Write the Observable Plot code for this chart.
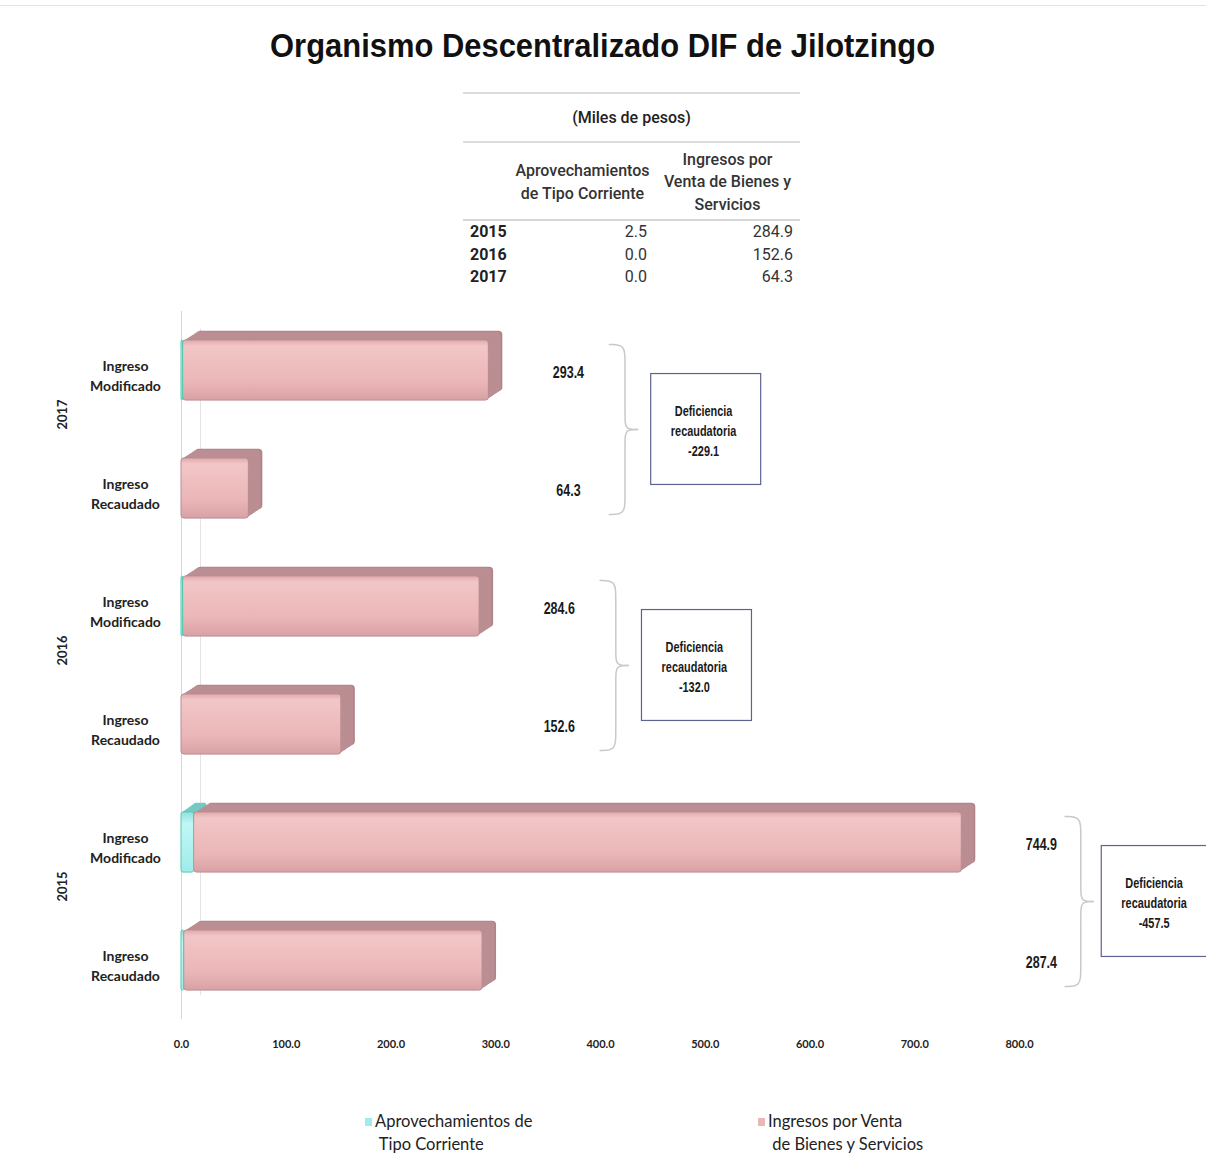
<!DOCTYPE html>
<html><head><meta charset="utf-8">
<script src="https://cdn.jsdelivr.net/npm/d3@7"></script>
<script src="https://cdn.jsdelivr.net/npm/@observablehq/plot@0.6"></script>
<style>
body{margin:0;background:#fff;}
#wrap{position:relative;width:1206px;height:1156px;overflow:hidden;color:#111;font-family:Roboto,"Liberation Sans",sans-serif;}
#topline{position:absolute;left:0;top:5px;width:1206px;height:1px;background:#e4e4e4;}
#title{position:absolute;left:0;top:25px;width:1206px;text-align:center;line-height:40px;}
#title span{display:inline-block;font-family:"Liberation Sans",Arial,sans-serif;font-size:34px;font-weight:bold;color:#111;transform-origin:50% 50%;white-space:nowrap;}
#tbl{position:absolute;left:463px;top:92px;border-collapse:collapse;font-size:16px;color:#222;font-family:Roboto,sans-serif;}
#tbl td{padding:0;}
#tbl tr.unit td{height:47px;text-align:center;font-weight:500;border-top:2px solid #dcdcdc;border-bottom:2px solid #dcdcdc;}
#tbl tr.head td{height:73px;text-align:center;white-space:pre;line-height:22.5px;font-weight:500;border-bottom:2px solid #d6d6d6;color:#333;padding-top:3px;}
#tbl tr.row td{height:22.5px;line-height:22.5px;text-align:right;color:#333;}
#tbl tr.row td.yr{text-align:left;font-weight:bold;padding-left:7px;color:#222;}
#chart{position:absolute;left:0;top:300px;}
.leg{position:absolute;top:1110px;font-family:Lato,"Open Sans",sans-serif;font-size:16.5px;line-height:23px;color:#222;white-space:pre;text-align:left;}
.sw{position:absolute;width:7px;height:8px;}
</style>
</head><body>
<div id="wrap">
  <div id="topline"></div>
  <div id="title"><span></span></div>
  <table id="tbl"></table>
  <div id="chart"></div>
</div>
<script>
// ---- data ----
const titleText = "Organismo Descentralizado DIF de Jilotzingo";
const unitText = "(Miles de pesos)";
const years = ["2017", "2016", "2015"];               // top to bottom in chart
const tipos = ["Ingreso\nModificado", "Ingreso\nRecaudado"];
const tableHeaders = ["Aprovechamientos\nde Tipo Corriente", "Ingresos por\nVenta de Bienes y\nServicios"];
const legendLabels = ["Aprovechamientos de\n Tipo Corriente", "Ingresos por Venta\n de Bienes y Servicios"];
const aprovModificado = [1.5, 1.5, 12.0];
const ventasModificado = [291.9, 283.1, 732.9];
const aprovRecaudado = [0.0, 0.0, 2.5];
const ventasRecaudado = [64.3, 152.6, 284.9];
const xTicks = [0, 100, 200, 300, 400, 500, 600, 700, 800];
const deficitLabel = ["Deficiencia", "recaudatoria"];

const colCyan = "#9eeceb", colPink = "#ebb6b7";

// ---- title & table ----
const tspan = document.querySelector("#title span");
tspan.textContent = titleText;
const tw = tspan.getBoundingClientRect().width;
tspan.style.transform = `scaleX(${665 / tw})`;

const tbl = d3.select("#tbl");
tbl.append("tr").attr("class", "unit").append("td").attr("colspan", 3).text(unitText);
const hr = tbl.append("tr").attr("class", "head");
hr.append("td").style("width", "47px");
hr.append("td").style("width", "145px").text(tableHeaders[0]);
hr.append("td").style("width", "145px").text(tableHeaders[1]);
years.map((y, i) => i).reverse().forEach(i => {
  const r = tbl.append("tr").attr("class", "row");
  r.append("td").attr("class", "yr").text(years[i]);
  r.append("td").style("padding-right", "8px").text(aprovRecaudado[i].toFixed(1));
  r.append("td").style("padding-right", "7px").text(ventasRecaudado[i].toFixed(1));
});

// ---- chart rows ----
const xEdge = 800 + 187 * 800 / (1206 - 181 - 187);   // data value at the right edge of the svg
const bars = [];
years.forEach((yr, i) => {
  const mod = +(aprovModificado[i] + ventasModificado[i]).toFixed(1);
  [[aprovModificado[i], ventasModificado[i]], [aprovRecaudado[i], ventasRecaudado[i]]].forEach(([a, v], j) => {
    bars.push({year: yr, tipo: tipos[j], row: i * 2 + j, aprov: a, total: +(a + v).toFixed(1), mod});
  });
});
const groups = years.map((yr, i) => {
  const mod = bars[i * 2].total, rec = bars[i * 2 + 1].total;
  const bx = Math.min(mod + 155, xEdge - 100);
  return {year: yr, mid: i * 2 + 0.5, mod, rec, def: rec - mod, bx, brace: Math.min(mod + 115, bx - 35)};
});
const braceLines = groups.flatMap(g => {
  const b = g.brace, w = 15, t = 27, top = g.mid - 0.72, bot = g.mid + 0.72, m = g.mid;
  const up = [[b, top], [b + w, top], [b + w, top + 0.14], [b + w, m - 0.1], [b + w, m], [b + t, m]];
  const lo = [[b + t, m], [b + w, m], [b + w, m + 0.1], [b + w, bot - 0.14], [b + w, bot], [b, bot]];
  return [...up.map(p => ({x: p[0], y: p[1], z: g.year + "u"})), ...lo.map(p => ({x: p[0], y: p[1], z: g.year + "l"}))];
});

const H = 0.255;
const narrowTag = () => "narrow";
// extrusion (3-D depth) drawn as a stack of offset copies of each bar
const depthSteps = d3.range(8, 0, -1);
const depthMarks = depthSteps.flatMap(k => [
  Plot.rect(bars, {x1: "aprov", x2: "total", y1: d => d.row - H, y2: d => d.row + H, dx: 1.75 * k, dy: -1.15 * k,
    fill: k === 8 ? "#b08488" : "#ba8e92", rx: 4}),
  Plot.rect(bars.filter(d => d.aprov >= 5), {x1: 0, x2: "aprov", y1: d => d.row - H, y2: d => d.row + H, dx: 1.6 * k, dy: -1.15 * k,
    fill: "#74c9c4", rx: 2})
]);
const chart = Plot.plot({
  width: 1206, height: 770,
  marginLeft: 181, marginRight: 187, marginTop: 11, marginBottom: 51,
  x: {domain: [0, 800], axis: null},
  y: {domain: [-0.5, 5.5], reverse: true, axis: null},
  style: {fontFamily: "Lato, sans-serif", overflow: "hidden", background: "#fff"},
  marks: [
    Plot.ruleX([0], {y1: -0.5, y2: 5.5, stroke: "#d6d6d6"}),
    Plot.ruleX([0], {y1: -0.35, y2: 5.3, dx: 19, stroke: "#e4e4e4"}),
    Plot.axisX(xTicks, {tickSize: 0, tickPadding: 21, tickFormat: d => d.toFixed(1), fontWeight: "bold", fontSize: 11, fill: "#222"}),
    ...depthMarks,
    // front faces
    Plot.rect(bars, {x1: "aprov", x2: "total", y1: d => d.row - H, y2: d => d.row + H, fill: "url(#gradPink)", stroke: "#b98c90", strokeWidth: 1, rx: 3}),
    Plot.rect(bars.filter(d => d.aprov > 0), {x1: 0, x2: "aprov", y1: d => d.row - H, y2: d => d.row + H, fill: "url(#gradCyan)", stroke: "#55c9ad", strokeWidth: 1, rx: 2}),
    // category & year labels
    Plot.text(bars, {y: "row", frameAnchor: "left", dx: -56, dy: 4, text: "tipo", textAnchor: "middle", lineHeight: 1.4, fontWeight: "bold", fontSize: 14, fill: "#222"}),
    Plot.text(groups, {y: "mid", frameAnchor: "left", dx: -119, text: "year", rotate: -90, fontWeight: "bold", fontSize: 13, fill: "#222"}),
    // value labels
    Plot.text(bars, {x: d => d.mod + 76, y: "row", dy: 2, text: d => d.total.toFixed(1), fontWeight: "bold", fontSize: 16, fontFamily: "Liberation Sans, Arial, sans-serif", fill: "#1a1a1a", ariaLabel: narrowTag}),
    // braces
    Plot.line(braceLines, {x: "x", y: "y", z: "z", curve: "basis", stroke: "#c9c9c9", strokeWidth: 1.5}),
    // deficit boxes
    Plot.rect(groups, {x1: "bx", x2: d => d.bx + 105, y1: d => d.mid - 0.47, y2: d => d.mid + 0.47, fill: "#fff", stroke: "#5d6390", strokeWidth: 1.2}),
    Plot.text(groups, {x: d => d.bx + 50, y: "mid", text: d => `${deficitLabel[0]}\n${deficitLabel[1]}\n${d.def.toFixed(1)}`, lineHeight: 1.45, fontWeight: "bold", fontSize: 14, fontFamily: "Liberation Sans, Arial, sans-serif", fill: "#1a1a1a", ariaLabel: narrowTag})
  ]
});
// narrow (condensed) look for the Arial-Narrow-like labels
d3.select(chart).selectAll('text[aria-label="narrow"]').each(function () {
  const t = this.getAttribute("transform");
  if (t) this.setAttribute("transform", t + " scale(0.78,1)");
  else {
    const x = +this.getAttribute("x") || 0, y = +this.getAttribute("y") || 0;
    this.removeAttribute("x"); this.removeAttribute("y");
    this.setAttribute("transform", `translate(${x},${y}) scale(0.78,1)`);
  }
});
const defs = d3.select(chart).insert("defs", ":first-child");
const gp = defs.append("linearGradient").attr("id", "gradPink").attr("x1", 0).attr("y1", 0).attr("x2", 0).attr("y2", 1);
[["0%", "#e0a8ab"], ["10%", "#f2c6c7"], ["70%", colPink], ["100%", "#d8a2a5"]].forEach(([o, c]) => gp.append("stop").attr("offset", o).attr("stop-color", c));
const gc = defs.append("linearGradient").attr("id", "gradCyan").attr("x1", 0).attr("y1", 0).attr("x2", 0).attr("y2", 1);
[["0%", "#8fe0e0"], ["20%", "#c2f6f6"], ["100%", colCyan]].forEach(([o, c]) => gc.append("stop").attr("offset", o).attr("stop-color", c));
document.getElementById("chart").appendChild(chart);

// ---- legend ----
const wrap = d3.select("#wrap");
[[colCyan, 375], [colPink, 768]].forEach(([c, left], i) => {
  wrap.append("div").attr("class", "leg").style("left", left + "px").text(legendLabels[i]);
  wrap.append("div").attr("class", "sw").style("left", (left - 10) + "px").style("top", "1118px").style("background", c);
});
</script>
</body></html>
